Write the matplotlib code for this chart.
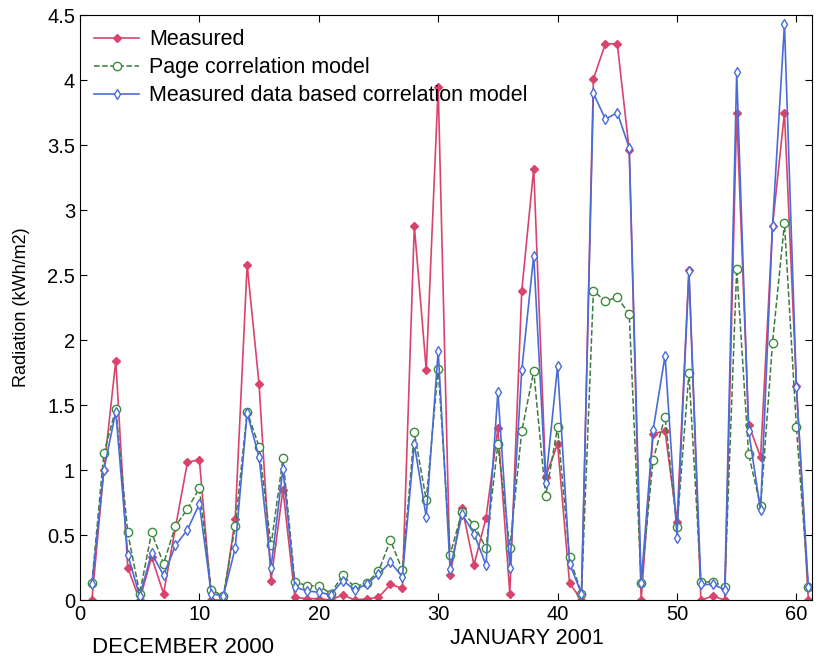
import matplotlib
matplotlib.use("Agg")
import matplotlib.pyplot as plt

plt.rcParams["font.family"] = ["Liberation Sans", "DejaVu Sans"]

days = list(range(1, 62))

measured = [0.0, 1.0, 1.84, 0.25, 0.0, 0.33, 0.05, 0.56, 1.06, 1.08,
            0.0, 0.0, 0.62, 2.58, 1.66, 0.15, 0.85, 0.02, 0.01, 0.01,
            0.0, 0.04, 0.0, 0.01, 0.02, 0.12, 0.09, 2.88, 1.77, 3.95,
            0.19, 0.71, 0.27, 0.63, 1.32, 0.05, 2.38, 3.32, 0.95, 1.2,
            0.13, 0.0, 4.01, 4.28, 4.28, 3.46, 0.0, 1.28, 1.3, 0.6,
            2.54, 0.0, 0.03, 0.0, 3.75, 1.35, 1.1, 2.88, 3.75, 1.65, 0.0]

page_model = [0.13, 1.13, 1.47, 0.52, 0.05, 0.52, 0.28, 0.57, 0.7, 0.86,
              0.08, 0.03, 0.57, 1.45, 1.18, 0.42, 1.09, 0.14, 0.11, 0.11,
              0.05, 0.19, 0.1, 0.13, 0.22, 0.46, 0.23, 1.29, 0.77, 1.78,
              0.35, 0.68, 0.58, 0.4, 1.2, 0.4, 1.3, 1.76, 0.8, 1.33,
              0.33, 0.05, 2.38, 2.3, 2.33, 2.2, 0.13, 1.08, 1.41, 0.56,
              1.75, 0.14, 0.14, 0.1, 2.55, 1.12, 0.72, 1.98, 2.9, 1.33, 0.1]

data_model = [0.12, 1.0, 1.45, 0.35, 0.03, 0.36, 0.19, 0.42, 0.54, 0.74,
              0.05, 0.03, 0.4, 1.44, 1.1, 0.25, 1.01, 0.1, 0.07, 0.06,
              0.04, 0.15, 0.08, 0.12, 0.2, 0.29, 0.18, 1.2, 0.64, 1.92,
              0.24, 0.66, 0.51, 0.27, 1.6, 0.25, 1.77, 2.65, 0.9, 1.8,
              0.28, 0.05, 3.9, 3.7, 3.75, 3.48, 0.13, 1.31, 1.88, 0.48,
              2.53, 0.12, 0.12, 0.08, 4.06, 1.3, 0.69, 2.88, 4.43, 1.64, 0.1]

yticks = [0, 0.5, 1, 1.5, 2, 2.5, 3, 3.5, 4, 4.5]
ytick_labels = ["0", "0.5", "1", "1.5", "2", "2.5", "3", "3.5", "4", "4.5"]
xticks = [0, 10, 20, 30, 40, 50, 60]

fig = plt.figure(figsize=(8.16, 6.63), dpi=100)
ax = fig.add_axes([0.098, 0.095, 0.897, 0.882])

ax.plot(days, measured, color="#d8446c", linewidth=1.2, marker="D", markersize=4,
        markerfacecolor="#d8446c", markeredgecolor="#d8446c", label="Measured")
ax.plot(days, page_model, color="#3f7a3f", linestyle="--", linewidth=1.1, marker="o",
        markersize=6, markerfacecolor="white", markeredgecolor="#3c8c3c",
        label="Page correlation model")
ax.plot(days, data_model, color="#4a6cd6", linewidth=1.2, marker="d", markersize=5,
        markerfacecolor="white", markeredgecolor="#4a6cd6",
        label="Measured data based correlation model")

ax.set_xlim(0, 61.3)
ax.set_ylim(0, 4.5)
ax.set_xticks(xticks)
ax.set_yticks(yticks)
ax.set_yticklabels(ytick_labels)
ax.tick_params(direction="in", top=True, right=True, labelsize=14.5, length=5)
ax.set_ylabel("Radiation (kWh/m2)", fontsize=13, labelpad=12)

fig.text(0.113, 0.015, "DECEMBER 2000", fontsize=16)
fig.text(0.551, 0.028, "JANUARY 2001", fontsize=15.5)

ax.legend(loc="upper left", frameon=False, fontsize=15.5, handlelength=2.1,
          borderaxespad=0.25, labelspacing=0.33, handletextpad=0.45)

fig.savefig("out.png", dpi=100)
